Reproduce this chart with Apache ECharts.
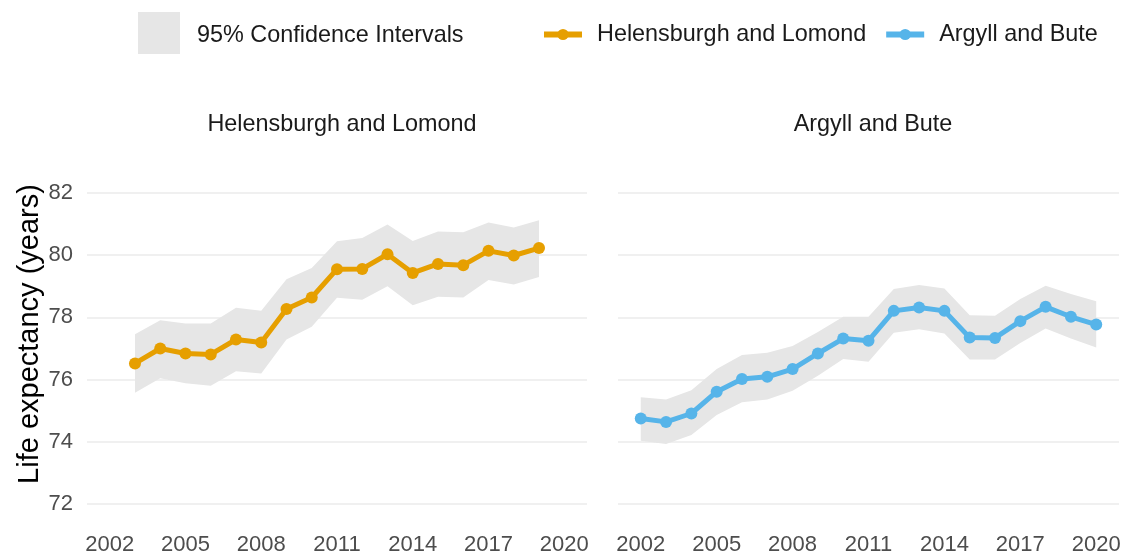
<!DOCTYPE html>
<html>
<head>
<meta charset="utf-8">
<title>Life expectancy</title>
<script src="https://cdn.jsdelivr.net/npm/echarts@6/dist/echarts.min.js"></script>
<style>
  html, body { margin: 0; padding: 0; background: #fff; }
  #chart { width: 1140px; height: 554px; }
</style>
</head>
<body>
<div id="chart"></div>
<script>
// Helensburgh and Lomond
const hlYears = [2003, 2004, 2005, 2006, 2007, 2008, 2009, 2010, 2011, 2012, 2013, 2014, 2015, 2016, 2017, 2018, 2019];
const hlMean = [76.52, 77.0, 76.84, 76.81, 77.29, 77.19, 78.27, 78.64, 79.55, 79.56, 80.03, 79.43, 79.72, 79.68, 80.14, 79.99, 80.23];
const hlLower = [75.58, 76.04, 75.88, 75.80, 76.27, 76.20, 77.29, 77.70, 78.63, 78.57, 79.0, 78.39, 78.66, 78.64, 79.20, 79.06, 79.30];
const hlUpper = [77.46, 77.91, 77.80, 77.80, 78.31, 78.21, 79.23, 79.59, 80.45, 80.55, 80.99, 80.46, 80.76, 80.74, 81.05, 80.89, 81.12];

// Argyll and Bute
const abYears = [2002, 2003, 2004, 2005, 2006, 2007, 2008, 2009, 2010, 2011, 2012, 2013, 2014, 2015, 2016, 2017, 2018, 2019, 2020];
const abMean = [74.75, 74.64, 74.91, 75.61, 76.02, 76.09, 76.34, 76.84, 77.32, 77.25, 78.21, 78.32, 78.21, 77.35, 77.34, 77.88, 78.34, 78.02, 77.77];
const abLower = [74.03, 73.93, 74.22, 74.86, 75.27, 75.36, 75.64, 76.12, 76.66, 76.57, 77.51, 77.62, 77.48, 76.65, 76.65, 77.18, 77.64, 77.32, 77.03];
const abUpper = [75.43, 75.36, 75.66, 76.34, 76.79, 76.86, 77.08, 77.53, 78.02, 78.02, 78.91, 79.04, 78.93, 78.07, 78.05, 78.59, 79.02, 78.75, 78.52];

const xTicks = [2002, 2005, 2008, 2011, 2014, 2017, 2020];

const FONT = '"Liberation Sans", Arial, sans-serif';
const CI_NAME = '95% Confidence Intervals';
const CI_COLOR = '#e6e6e6';

function xAxisFor(idx) {
  return {
    gridIndex: idx,
    type: 'value',
    min: 2001.1,
    max: 2020.9,
    axisLine: { show: false },
    axisTick: { show: false },
    splitLine: { show: false },
    axisLabel: {
      customValues: xTicks,
      formatter: v => String(v),
      fontSize: 22,
      fontFamily: FONT,
      color: '#4d4d4d',
      margin: 30
    }
  };
}

function yAxisFor(idx, showLabels) {
  return {
    gridIndex: idx,
    type: 'value',
    min: 72,
    max: 82,
    interval: 2,
    axisLine: { show: false },
    axisTick: { show: false },
    splitLine: { lineStyle: { color: '#ebebeb', width: 1.6 } },
    axisLabel: {
      show: showLabels,
      fontSize: 22,
      fontFamily: FONT,
      color: '#4d4d4d',
      margin: 14
    }
  };
}

// ribbon between lower and upper, drawn once as one polygon
function bandSeries(idx, xs, lower, upper) {
  return {
    name: CI_NAME,
    type: 'custom',
    xAxisIndex: idx,
    yAxisIndex: idx,
    data: xs.map((x, i) => [x, lower[i], upper[i]]),
    encode: { x: 0, y: [1, 2] },
    itemStyle: { color: CI_COLOR },
    silent: true,
    z: 1,
    renderItem(params, api) {
      if (params.dataIndex !== 0) return null;
      const top = xs.map((x, i) => api.coord([x, upper[i]]));
      const bottom = xs.map((x, i) => api.coord([x, lower[i]])).reverse();
      return {
        type: 'polygon',
        shape: { points: top.concat(bottom) },
        style: { fill: CI_COLOR },
        clipPath: {
          type: 'rect',
          shape: { x: params.coordSys.x, y: params.coordSys.y, width: params.coordSys.width, height: params.coordSys.height }
        }
      };
    }
  };
}

function lineSeries(idx, name, xs, ys, color) {
  return {
    name: name,
    type: 'line',
    xAxisIndex: idx,
    yAxisIndex: idx,
    data: xs.map((x, i) => [x, ys[i]]),
    symbol: 'circle',
    symbolSize: 12,
    itemStyle: { color: color },
    lineStyle: { color: color, width: 5 },
    z: 3
  };
}

const chart = echarts.init(document.getElementById('chart'));

chart.setOption({
  animation: false,
  textStyle: { fontFamily: FONT },
  title: [{
    text: 'Helensburgh and Lomond',
    left: 337,
    top: 108,
    textAlign: 'center',
    textStyle: { fontSize: 23.4, fontWeight: 'normal', color: '#1a1a1a', fontFamily: FONT }
  }, {
    text: 'Argyll and Bute',
    left: 868,
    top: 108,
    textAlign: 'center',
    textStyle: { fontSize: 23.4, fontWeight: 'normal', color: '#1a1a1a', fontFamily: FONT }
  }],
  legend: [{
    data: [{ name: CI_NAME, itemStyle: { color: CI_COLOR } }],
    left: 138,
    top: 12,
    padding: 0,
    icon: 'rect',
    itemWidth: 42,
    itemHeight: 42,
    selectedMode: false,
    formatter: '{a|{name}}',
    textStyle: {
      rich: {
        a: { fontSize: 23.4, color: '#1a1a1a', fontFamily: FONT, padding: [5, 0, 0, 12] }
      }
    }
  }, {
    data: ['Helensburgh and Lomond', 'Argyll and Bute'],
    left: 541,
    top: 23,
    padding: 0,
    itemWidth: 38,
    itemHeight: 14,
    itemGap: 17,
    lineStyle: { width: 6 },
    selectedMode: false,
    textStyle: { fontSize: 23.4, color: '#1a1a1a', fontFamily: FONT, padding: [0, 0, 0, 10] }
  }],
  grid: [
    { left: 87, top: 193, width: 500, height: 311, outerBoundsMode: 'none' },
    { left: 618, top: 193, width: 501, height: 311, outerBoundsMode: 'none' }
  ],
  xAxis: [xAxisFor(0), xAxisFor(1)],
  yAxis: [yAxisFor(0, true), yAxisFor(1, false)],
  graphic: [{
    type: 'text',
    x: 29.5,
    y: 334,
    rotation: Math.PI / 2,
    style: {
      text: 'Life expectancy (years)',
      fontSize: 29,
      fontFamily: FONT,
      fill: '#000',
      textAlign: 'center',
      textVerticalAlign: 'middle'
    }
  }],
  series: [
    bandSeries(0, hlYears, hlLower, hlUpper),
    bandSeries(1, abYears, abLower, abUpper),
    lineSeries(0, 'Helensburgh and Lomond', hlYears, hlMean, '#E69F00'),
    lineSeries(1, 'Argyll and Bute', abYears, abMean, '#56B4E9')
  ]
});
</script>
</body>
</html>
